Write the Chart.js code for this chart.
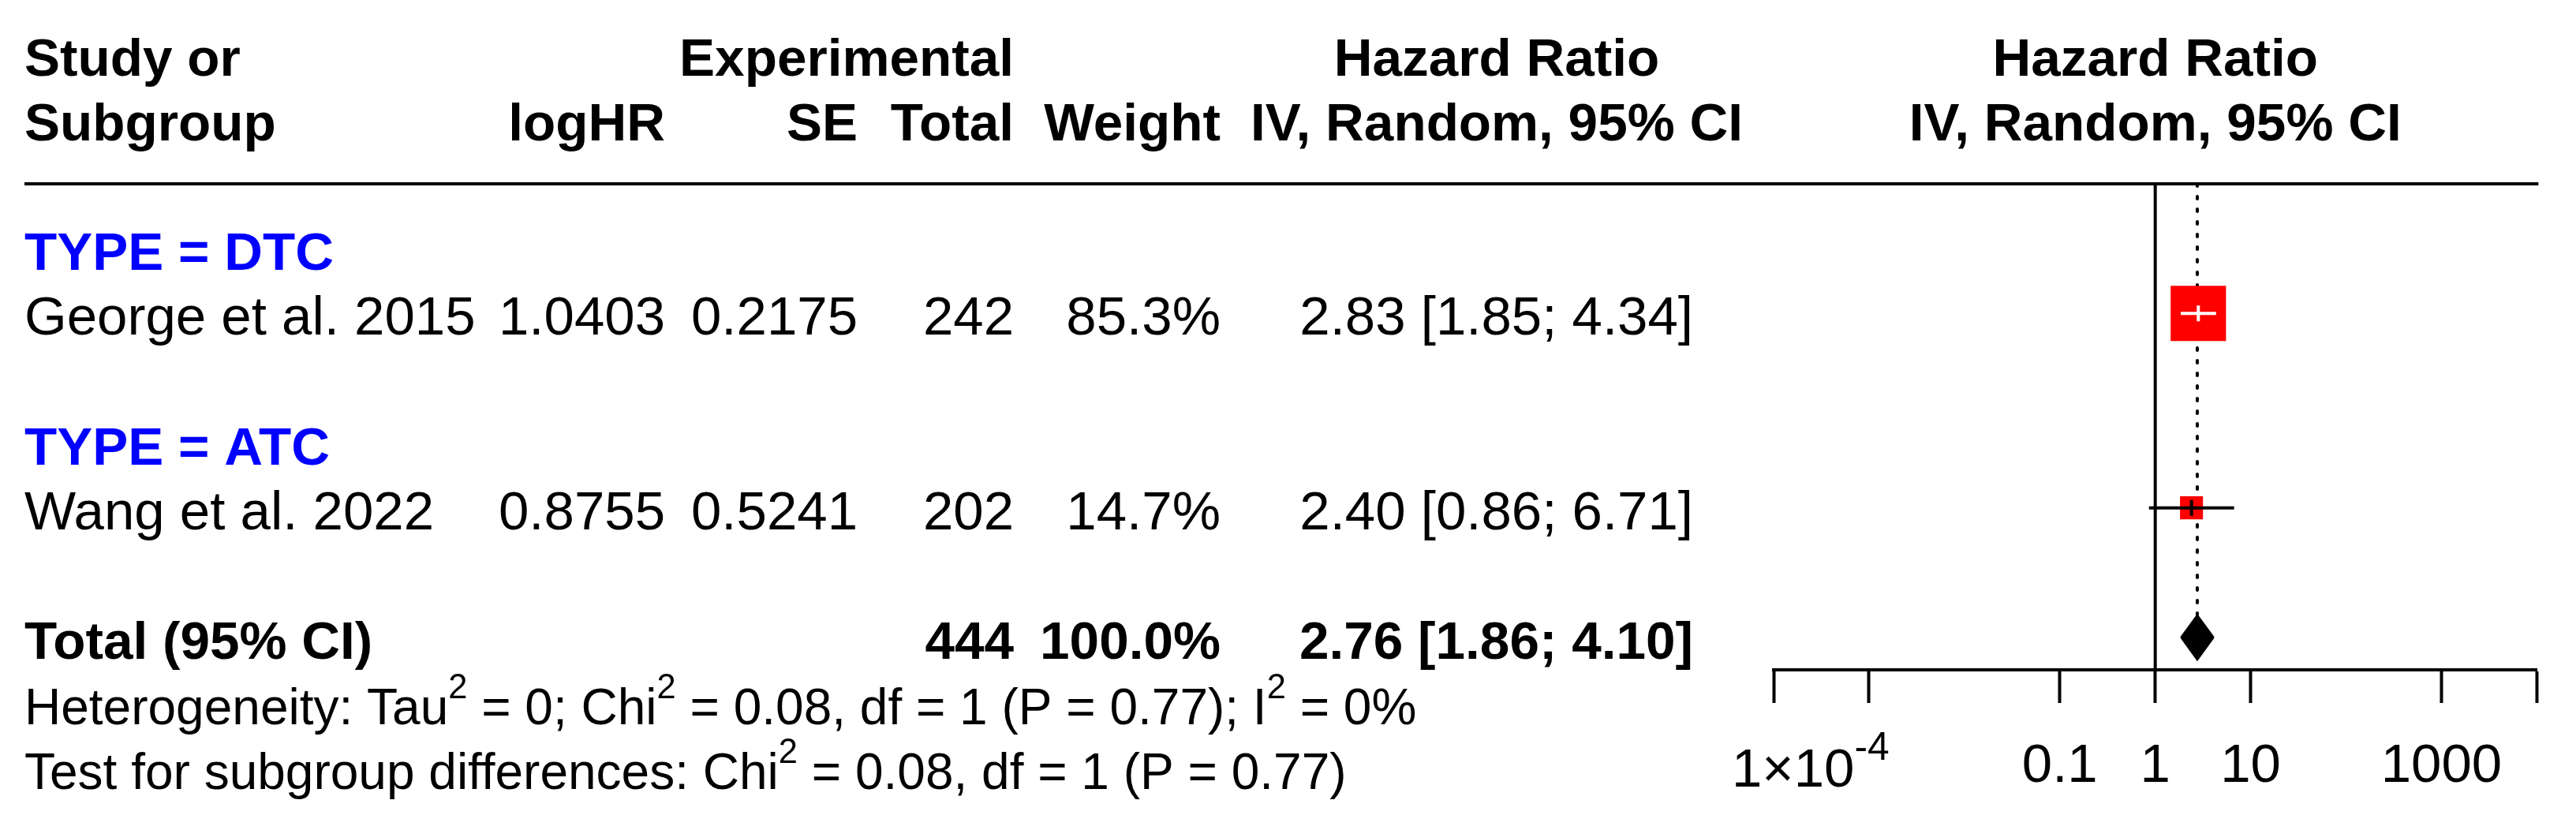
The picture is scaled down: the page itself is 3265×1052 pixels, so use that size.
<!DOCTYPE html>
<html>
<head>
<meta charset="utf-8">
<title>Forest plot</title>
<script src="https://cdn.jsdelivr.net/npm/chart.js@4.4.1/dist/chart.umd.min.js"></script>
<style>
  html, body { margin: 0; padding: 0; background: #fff; }
  canvas { display: block; }
</style>
</head>
<body>
<canvas id="forest" width="3265" height="1052" style="width:3265px;height:1052px"></canvas>
<script>
// data
const subgroupLabels = ['TYPE = DTC', 'TYPE = ATC'];
const studyNames = ['George et al. 2015', 'Wang et al. 2022'];
const studySubgroup = [0, 1];
const logHR = [1.0403, 0.8755];
const seLogHR = [0.2175, 0.5241];
const totals = [242, 202];
const weights = [85.3, 14.7];
const hazardRatio = [2.83, 2.40];
const ciLower = [1.85, 0.86];
const ciUpper = [4.34, 6.71];
const pooledHR = [2.76, 1.86, 4.10];      // estimate, lower, upper
const heterogeneity = [0, 0.08, 1, 0.77, 0]; // tau2, chi2, df, p, I2
const subgroupTest = [0.08, 1, 0.77];     // chi2, df, p
const tickValues = [1e-4, 1e-3, 0.1, 1, 10, 1000, 1e4];
const tickLabels = ['1×10^-4', '', '0.1', '1', '10', '1000', ''];

const FONT = '"Liberation Sans", Arial, Helvetica, sans-serif';
const TEXT = 69, BOLD = 67.5, SMALL = 64;

// row layout: subgroup header, its studies, blank line
let row = 0;
const subgroupRows = [];
const studyRows = [];
subgroupLabels.forEach((lab, g) => {
    subgroupRows.push(row++);
    studyNames.forEach((n, i) => {
        if (studySubgroup[i] === g) studyRows[i] = row++;
    });
    row++;
});
const totalRow = row;
const diamondHalf = 0.347;

const squareSide = i => 7.6 * Math.sqrt(weights[i]);

// CI drawn in white when it fits inside the square
function ciInside(chart, i) {
    const xs = chart.scales.x;
    const c = xs.getPixelForValue(hazardRatio[i]);
    const half = squareSide(i) / 2;
    return xs.getPixelForValue(ciLower[i]) >= c - half && xs.getPixelForValue(ciUpper[i]) <= c + half;
}

const datasets = [];

// point estimate ticks
datasets.push({
    data: studyNames.map((n, i) => ({ x: hazardRatio[i], y: studyRows[i] })),
    showLine: false,
    pointStyle: 'line',
    rotation: 90,
    pointRadius: 10,
    pointBorderWidth: 4,
    pointBorderColor: c => ciInside(c.chart, c.dataIndex) ? '#fff' : '#000',
    order: 0
});

// confidence interval lines
studyNames.forEach((n, i) => {
    datasets.push({
        data: [{ x: ciLower[i], y: studyRows[i] }, { x: ciUpper[i], y: studyRows[i] }],
        borderColor: c => ciInside(c.chart, i) ? '#fff' : '#000',
        borderWidth: 4,
        pointRadius: 0,
        order: 1
    });
});

// weighted squares
datasets.push({
    data: studyNames.map((n, i) => ({ x: hazardRatio[i], y: studyRows[i] })),
    showLine: false,
    pointStyle: 'rect',
    pointRadius: studyNames.map((n, i) => squareSide(i) / Math.SQRT2),
    pointBackgroundColor: '#ff0000',
    pointBorderWidth: 0,
    order: 2
});

// pooled diamond (upper half filled down to lower half)
datasets.push({
    data: [
        { x: pooledHR[1], y: totalRow },
        { x: pooledHR[0], y: totalRow - diamondHalf },
        { x: pooledHR[2], y: totalRow }
    ],
    borderColor: '#000',
    backgroundColor: '#000',
    borderWidth: 2,
    pointRadius: 0,
    fill: '+1',
    order: 3
});
datasets.push({
    data: [
        { x: pooledHR[1], y: totalRow },
        { x: pooledHR[0], y: totalRow + diamondHalf },
        { x: pooledHR[2], y: totalRow }
    ],
    borderColor: '#000',
    borderWidth: 2,
    pointRadius: 0,
    fill: false,
    order: 3
});

// dotted line at the pooled estimate
datasets.push({
    data: [{ x: pooledHR[0], y: -1 }, { x: pooledHR[0], y: totalRow - diamondHalf }],
    borderColor: '#000',
    borderWidth: 4,
    borderDash: [3, 13],
    borderCapStyle: 'round',
    pointRadius: 0,
    order: 4
});

// line of no effect
datasets.push({
    data: [{ x: 1, y: -1 }, { x: 1, y: totalRow + 0.5 }],
    borderColor: '#000',
    borderWidth: 4,
    pointRadius: 0,
    order: 5
});

function put(ctx, s, x, y, align, weight, size, color) {
    ctx.font = `${weight} ${size}px ${FONT}`;
    ctx.textAlign = align;
    ctx.textBaseline = 'alphabetic';
    ctx.fillStyle = color || '#000';
    ctx.fillText(s, x, y);
}

function putRich(ctx, parts, x, y, size, supScale, supRise) {
    ctx.textAlign = 'left';
    ctx.textBaseline = 'alphabetic';
    ctx.fillStyle = '#000';
    let cx = x;
    parts.forEach(([s, sup]) => {
        ctx.font = `normal ${sup ? size * supScale : size}px ${FONT}`;
        ctx.fillText(s, cx, sup ? y - size * supRise : y);
        cx += ctx.measureText(s).width;
    });
}

const fmtCI = (e, l, u) => `${e.toFixed(2)} [${l.toFixed(2)}; ${u.toFixed(2)}]`;

// table text drawn next to the plot
const tablePlugin = {
    id: 'forestTable',
    afterDraw(chart) {
        const { ctx, chartArea } = chart;
        const ys = chart.scales.y;
        const xs = chart.scales.x;
        const base = r => ys.getPixelForValue(r) + 27;
        const plotMid = (chartArea.left + chartArea.right) / 2;
        const colName = 31, colLog = 843, colSE = 1087, colTot = 1285, colW = 1547, colCI = 2146, colHead = 1897;

        ctx.save();
        ctx.strokeStyle = '#000';
        ctx.lineWidth = 4;
        ctx.beginPath();
        ctx.moveTo(colName, chartArea.top);
        ctx.lineTo(chartArea.right + 2, chartArea.top);
        ctx.stroke();

        // header
        put(ctx, 'Study or', colName, base(-3), 'left', 'bold', BOLD);
        put(ctx, 'Experimental', colTot, base(-3), 'right', 'bold', BOLD);
        put(ctx, 'Hazard Ratio', colHead, base(-3), 'center', 'bold', BOLD);
        put(ctx, 'Hazard Ratio', plotMid, base(-3), 'center', 'bold', BOLD);
        put(ctx, 'Subgroup', colName, base(-2), 'left', 'bold', BOLD);
        put(ctx, 'logHR', colLog, base(-2), 'right', 'bold', BOLD);
        put(ctx, 'SE', colSE, base(-2), 'right', 'bold', BOLD);
        put(ctx, 'Total', colTot, base(-2), 'right', 'bold', BOLD);
        put(ctx, 'Weight', colW, base(-2), 'right', 'bold', BOLD);
        put(ctx, 'IV, Random, 95% CI', colHead, base(-2), 'center', 'bold', BOLD);
        put(ctx, 'IV, Random, 95% CI', plotMid, base(-2), 'center', 'bold', BOLD);

        subgroupLabels.forEach((lab, g) => {
            put(ctx, lab, colName, base(subgroupRows[g]), 'left', 'bold', BOLD, '#0000ff');
        });

        studyNames.forEach((n, i) => {
            const y = base(studyRows[i]);
            put(ctx, n, colName, y, 'left', 'normal', TEXT);
            put(ctx, logHR[i].toFixed(4), colLog, y, 'right', 'normal', TEXT);
            put(ctx, seLogHR[i].toFixed(4), colSE, y, 'right', 'normal', TEXT);
            put(ctx, String(totals[i]), colTot, y, 'right', 'normal', TEXT);
            put(ctx, weights[i].toFixed(1) + '%', colW, y, 'right', 'normal', TEXT);
            put(ctx, fmtCI(hazardRatio[i], ciLower[i], ciUpper[i]), colCI, y, 'right', 'normal', TEXT);
        });

        const yt = base(totalRow);
        const sumN = totals.reduce((a, b) => a + b, 0);
        const sumW = weights.reduce((a, b) => a + b, 0);
        put(ctx, 'Total (95% CI)', colName, yt, 'left', 'bold', BOLD);
        put(ctx, String(sumN), colTot, yt, 'right', 'bold', BOLD);
        put(ctx, sumW.toFixed(1) + '%', colW, yt, 'right', 'bold', BOLD);
        put(ctx, fmtCI(pooledHR[0], pooledHR[1], pooledHR[2]), colCI, yt, 'right', 'bold', BOLD);

        const [tau2, chi2, df, p, i2] = heterogeneity;
        putRich(ctx, [
            ['Heterogeneity: Tau', 0], ['2', 1], [` = ${tau2}; Chi`, 0], ['2', 1],
            [` = ${chi2.toFixed(2)}, df = ${df} (P = ${p.toFixed(2)}); I`, 0], ['2', 1], [` = ${i2}%`, 0]
        ], colName, base(totalRow + 1) + 1, SMALL, 0.68, 0.52);
        putRich(ctx, [
            ['Test for subgroup differences: Chi', 0], ['2', 1],
            [` = ${subgroupTest[0].toFixed(2)}, df = ${subgroupTest[1]} (P = ${subgroupTest[2].toFixed(2)})`, 0]
        ], colName, base(totalRow + 2) + 1, SMALL, 0.68, 0.52);

        // tick label with exponent
        tickLabels.forEach((lab, k) => {
            if (!lab.includes('^')) return;
            const [mant, exp] = lab.split('^');
            const px = xs.getPixelForValue(tickValues[k]);
            putRich(ctx, [[mant, 0], [exp, 1]], px - 53, 997, TEXT, 0.72, 0.5);
        });
        ctx.restore();
    }
};

new Chart(document.getElementById('forest'), {
    type: 'line',
    data: { datasets: datasets },
    options: {
        responsive: false,
        animation: false,
        devicePixelRatio: 1,
        events: [],
        layout: { padding: { left: 2248, right: 48, top: 233, bottom: 0 } },
        plugins: {
            legend: { display: false },
            tooltip: { enabled: false }
        },
        scales: {
            x: {
                type: 'logarithmic',
                min: 1e-4,
                max: 1e4,
                afterBuildTicks: scale => {
                    scale.ticks = tickValues.map(v => ({ value: v }));
                },
                afterFit: scale => {
                    scale.height = 203;
                },
                ticks: {
                    autoSkip: false,
                    maxRotation: 0,
                    minRotation: 0,
                    padding: 40,
                    color: '#000',
                    font: { family: FONT, size: TEXT },
                    callback: (v, i) => tickLabels[i].includes('^') ? '' : tickLabels[i]
                },
                grid: {
                    drawOnChartArea: false,
                    drawTicks: true,
                    tickLength: 42,
                    tickWidth: 4,
                    tickColor: '#000'
                },
                border: { display: true, color: '#000', width: 4 }
            },
            y: {
                type: 'linear',
                display: false,
                reverse: true,
                min: -1,
                max: totalRow + 0.5
            }
        }
    },
    plugins: [tablePlugin]
});
</script>
</body>
</html>
